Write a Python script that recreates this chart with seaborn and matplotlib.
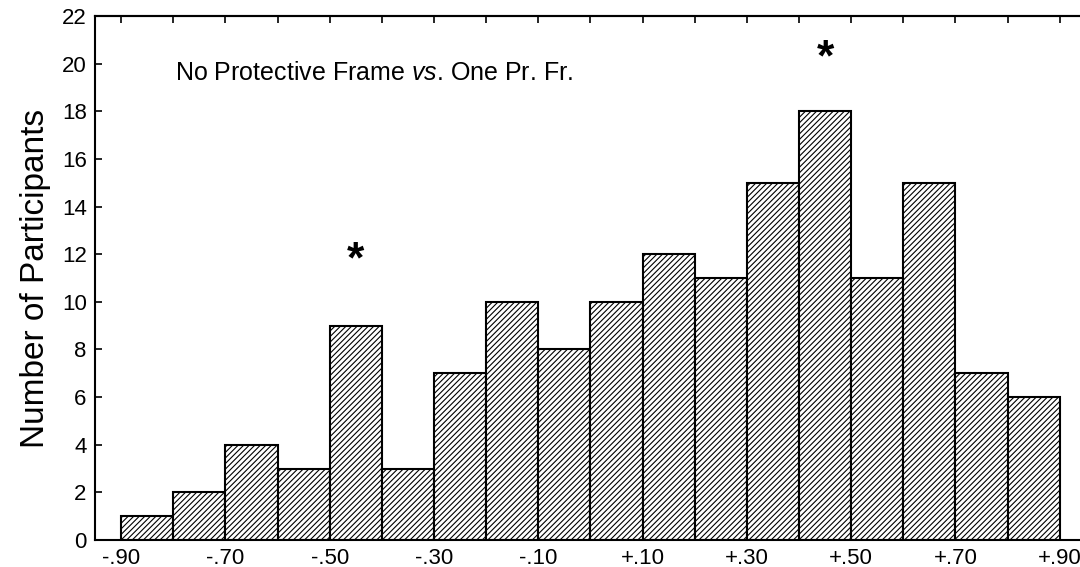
import numpy as np
import seaborn as sns
import matplotlib.pyplot as plt

# bin edges of the difference score and number of participants per bin
bin_edges = [-0.90, -0.80, -0.70, -0.60, -0.50, -0.40, -0.30, -0.20, -0.10, 0.00,
             0.10, 0.20, 0.30, 0.40, 0.50, 0.60, 0.70, 0.80, 0.90]
counts = [1, 2, 4, 3, 9, 3, 7, 10, 8, 10, 12, 11, 15, 18, 11, 15, 7, 6]
tick_values = [-0.90, -0.70, -0.50, -0.30, -0.10, 0.10, 0.30, 0.50, 0.70, 0.90]
tick_labels = ['-.90', '-.70', '-.50', '-.30', '-.10', '+.10', '+.30', '+.50', '+.70', '+.90']
star_bins = [-0.45, 0.45]
star_heights = [11.7, 20.2]

sns.set_style('white')
plt.rcParams['font.family'] = ['Liberation Sans', 'DejaVu Sans']
plt.rcParams['mathtext.fontset'] = 'custom'
plt.rcParams['mathtext.it'] = 'Liberation Sans:italic'
plt.rcParams['mathtext.rm'] = 'Liberation Sans'
plt.rcParams['hatch.linewidth'] = 0.8
plt.rcParams['hatch.color'] = '#2a2a2a'
for k in ['text.color', 'axes.labelcolor', 'xtick.color', 'ytick.color']:
    plt.rcParams[k] = 'black'

centers = [(a + b) / 2 for a, b in zip(bin_edges[:-1], bin_edges[1:])]

fig = plt.figure(figsize=(10.8, 5.67), dpi=100)
ax = fig.add_axes([0.088, 0.0476, 0.915, 0.924])

sns.histplot(x=centers, weights=counts, bins=bin_edges, ax=ax,
             color='white', edgecolor='black', linewidth=1.5, alpha=1)
for p in ax.patches:
    p.set_hatch('//////')

# significance markers
for xb, yb in zip(star_bins, star_heights):
    ax.text(xb, yb, '*', ha='center', va='center', fontsize=32, fontweight='bold')

ax.text(-0.796, 19.6, 'No Protective Frame $\\it{vs}$. One Pr. Fr.', fontsize=18,
        va='center', ha='left')

ax.set_xlim(-0.95, 0.945)
ax.set_ylim(0, 22)
ax.set_yticks(range(0, 23, 2))
ax.set_xticks(tick_values)
ax.set_xticklabels(tick_labels)
ax.set_ylabel('Number of Participants', fontsize=24, labelpad=8)
ax.set_xlabel('')

ax.tick_params(axis='y', direction='in', length=5, width=1.2, labelsize=16, left=True, pad=6)
ax.tick_params(axis='x', bottom=False, labelsize=16, pad=2)

# top spine with inward ticks at each bin edge
top = ax.secondary_xaxis('top')
top.set_xticks(bin_edges)
top.tick_params(direction='in', length=5, width=1.2, labeltop=False)

ax.spines['right'].set_visible(False)
for s in ['left', 'top', 'bottom']:
    ax.spines[s].set_linewidth(1.5)
    ax.spines[s].set_color('black')
top.spines['top'].set_linewidth(1.5)

fig.savefig('out.png', dpi=100)
